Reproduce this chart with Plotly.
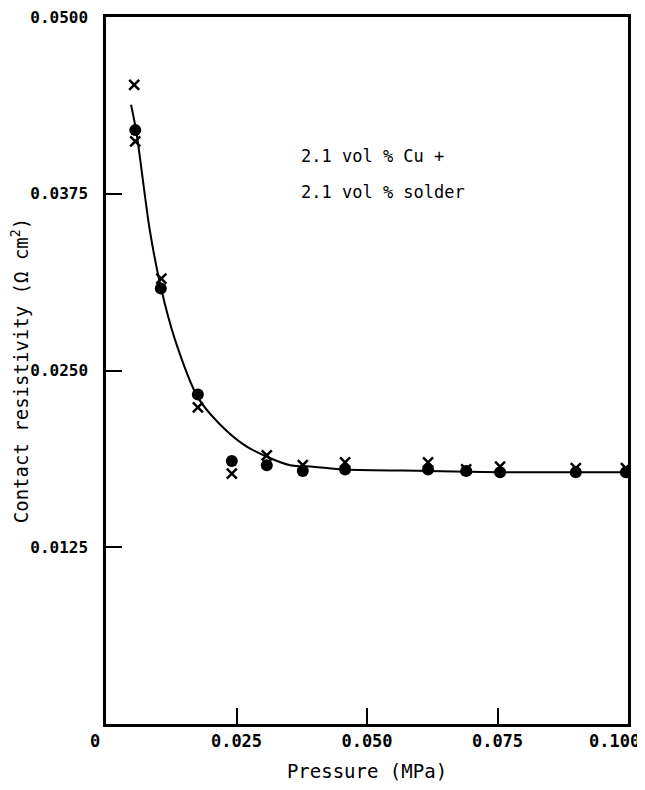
import plotly.graph_objects as go

# ---- data ----
pressure_circles = [0.0056, 0.0105, 0.0176, 0.0241, 0.0308, 0.0377, 0.0458, 0.0617, 0.0690, 0.0755, 0.0900, 0.0996]
resist_circles   = [0.0420, 0.0308, 0.0233, 0.0186, 0.0183, 0.0179, 0.0180, 0.0180, 0.0179, 0.0178, 0.0178, 0.0178]

pressure_crosses = [0.0054, 0.0056, 0.0106, 0.0176, 0.0241, 0.0308, 0.0377, 0.0458, 0.0617, 0.0690, 0.0755, 0.0900, 0.0996]
resist_crosses   = [0.0452, 0.0412, 0.0315, 0.0224, 0.0177, 0.0190, 0.0183, 0.0185, 0.0185, 0.0180, 0.0182, 0.0181, 0.0181]

curve_pressure = [0.0048, 0.0058, 0.0084, 0.0105, 0.0132, 0.0176, 0.0218, 0.0266, 0.0308, 0.0353, 0.0397, 0.0458, 0.0617, 0.0755, 0.0996]
curve_resist   = [0.0438, 0.0419, 0.0349, 0.0309, 0.0272, 0.0231, 0.0212, 0.0197, 0.0189, 0.0183, 0.0182, 0.0180, 0.0179, 0.0178, 0.0178]

x_tick_vals = [0.0, 0.025, 0.050, 0.075, 0.100]
x_tick_text = ["0", "0.025", "0.050", "0.075", "0.100"]
y_tick_vals = [0.0125, 0.0250, 0.0375, 0.0500]
y_tick_text = ["0.0125", "0.0250", "0.0375", "0.0500"]

x_title = "Pressure (MPa)"
y_title = "Contact resistivity (Ω cm<sup>2</sup>)"
note_lines = ["2.1 vol % Cu +", "2.1 vol % solder"]
note_y = [0.0402, 0.0376]
note_x = 0.0370

mono = "DejaVu Sans Mono"
tick_font = dict(family=mono, size=17, weight="bold", color="black")

fig = go.Figure()
fig.add_trace(go.Scatter(x=curve_pressure, y=curve_resist, mode="lines",
                         line=dict(color="black", width=2, shape="spline", smoothing=0.8),
                         hoverinfo="skip", showlegend=False))
fig.add_trace(go.Scatter(x=pressure_circles, y=resist_circles, mode="markers",
                         marker=dict(symbol="circle", size=12, color="black"),
                         showlegend=False))
fig.add_trace(go.Scatter(x=pressure_crosses, y=resist_crosses, mode="markers",
                         marker=dict(symbol="x-thin", size=10, color="black",
                                     line=dict(color="black", width=2.5)),
                         showlegend=False))

fig.update_layout(
    width=637, height=774,
    margin=dict(l=98, r=17, t=9, b=58, autoexpand=False),
    paper_bgcolor="white", plot_bgcolor="white",
    font=dict(family=mono, color="black"),
)
# interior tick labels on the axis; the two edge labels are drawn slightly shifted,
# as in the reference (origin label sits left of the corner, last label kept in view)
axis_text = [t if 0 < v < 0.1 else "" for v, t in zip(x_tick_vals, x_tick_text)]
fig.update_xaxes(range=[0, 0.1], tickvals=x_tick_vals, ticktext=axis_text,
                 ticks="inside", ticklen=16, tickwidth=2, tickcolor="black",
                 showline=True, linewidth=2.5, linecolor="black", mirror=True,
                 showgrid=False, zeroline=False,
                 tickfont=tick_font,
                 title=dict(text=x_title, font=dict(family=mono, size=19, color="black"),
                            standoff=20))
fig.update_yaxes(range=[0, 0.05], tickvals=y_tick_vals, ticktext=y_tick_text,
                 ticks="inside", ticklen=16, tickwidth=2, tickcolor="black",
                 showline=True, linewidth=2.5, linecolor="black", mirror=True,
                 showgrid=False, zeroline=False, ticklabelstandoff=12,
                 ticklabeloverflow="allow",
                 tickfont=dict(family=mono, size=16, weight="bold", color="black"),
                 title=dict(text=y_title, font=dict(family=mono, size=19, color="black"),
                            standoff=2))

fig.add_annotation(x=x_tick_vals[0], y=0, xref="x", yref="y", text=x_tick_text[0],
                   showarrow=False, xanchor="center", yanchor="top", xshift=-11, yshift=-5,
                   font=tick_font)
fig.add_annotation(x=x_tick_vals[-1], y=0, xref="x", yref="y", text=x_tick_text[-1],
                   showarrow=False, xanchor="right", yanchor="top", xshift=14, yshift=-5,
                   font=tick_font)

for line, yv in zip(note_lines, note_y):
    fig.add_annotation(x=note_x, y=yv, xref="x", yref="y", text=line,
                       showarrow=False, xanchor="left", yanchor="middle",
                       font=dict(family=mono, size=17, color="black"))

fig.write_html("out.html")
